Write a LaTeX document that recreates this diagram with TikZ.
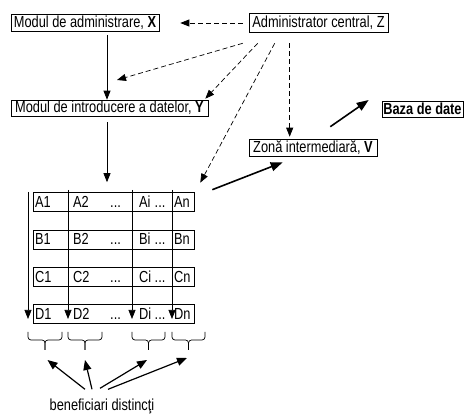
\documentclass[tikz,border=0pt]{standalone}
\usepackage{fontspec}
\setmainfont{Liberation Sans}[FakeStretch=0.8]
\usetikzlibrary{arrows.meta,calc}
\begin{document}
\begin{tikzpicture}[x=1pt,y=-1pt,
  every node/.style={font=\fontsize{16}{18}\selectfont, inner sep=0pt},
  box/.style={draw, line width=0.6pt, minimum height=17pt, inner sep=1pt},
  rowbox/.style={draw, line width=0.6pt, minimum width=161pt, minimum height=19pt},
  cell/.style={anchor=base west},
  arr/.style={line width=0.7pt, -{Triangle[length=9pt,width=7pt]}},
  darr/.style={line width=0.7pt, dash pattern=on 5pt off 3pt, -{Triangle[length=9pt,width=7pt]}},
  tarr/.style={line width=1.6pt, -{Triangle[length=12pt,width=9pt]}},
  barr/.style={line width=1.2pt, -{Triangle[length=10pt,width=8pt]}},
  bracepath/.style={line width=0.7pt, rounded corners=3pt}
]
\useasboundingbox (0,0) rectangle (464,414);

% main boxes
\node[box, minimum width=148pt] (X) at (85,22.5) {Modul de administrare, \textbf{X}};
\node[box, minimum width=139pt, minimum height=19pt] (Z) at (318.5,22.5) {Administrator central, Z};
\node[box, minimum width=197pt, minimum height=16pt] (Y) at (109.5,108) {Modul de introducere a datelor, \textbf{Y}};
\node[box, minimum width=128pt] (V) at (313,147.5) {Zonă intermediară, \textbf{V}};
\node[box, minimum width=81pt, minimum height=16pt] (B) at (422.5,109) {\textbf{Baza de date}};

% table rows
\node[rowbox] (rA) at (113.5,202) {};
\node[rowbox] (rB) at (113.5,239.5) {};
\node[rowbox] (rC) at (113.5,277) {};
\node[rowbox] (rD) at (113.5,314) {};

\foreach \r/\y in {A/207.5,B/245,C/282.5,D/319.5}{
  \node[cell] (\r c1) at (35,\y) {\r1};
  \node[cell] (\r c2) at (73,\y) {\r2};
  \node[cell] (\r d1) at (110,\y) {...};
  \node[cell] (\r ci) at (139,\y) {\r i};
  \node[cell] (\r d2) at (154.5,\y) {...};
  \node[cell] (\r cn) at (174,\y) {\r n};
}

% vertical column arrows
\foreach \i/\x/\t in {1/28/192,2/68/190,3/132/190,4/172/190}{
  \coordinate (vt\i) at (\x,\t);
  \coordinate (ve\i) at (\x,319);
  \draw[arr] (vt\i) -- (ve\i);
}

% solid arrows
\draw[arr] ($(X.south)+(22,4)$) -- ($(Y.north)+(-2.5,0)$);
\draw[arr] ($(Y.south)+(-2.5,6)$) -- ($(rA.north)+(-6.5,-10)$);

% dashed arrows from Z
\coordinate (c1) at (117,80);
\draw[darr] ($(Z.west)+(-6,0.5)$) -- ($(X.east)+(21,0.5)$);
\draw[darr] ($(Z.south west)+(-6,11)$) -- (c1);
\draw[darr] ($(Z.south west)+(9,11)$) -- ($(Y.north east)+(-3,-1)$);
\draw[darr] ($(Z.south west)+(26,11)$) -- ($(rA.north east)+(6,-9.5)$);
\draw[darr] ($(Z.south west)+(41,11)$) -- ($(V.north west)+(41,-2)$);

% thick arrows
\draw[tarr] ($(rA.north east)+(18,-2.5)$) -- ($(V.south west)+(34,6)$);
\draw[tarr] ($(V.north east)+(-47,-12)$) -- ($(B.west)+(-13,-9)$);

% braces
\foreach \i/\a/\b in {1/28/62,2/68/102,3/132/165,4/172/205}{
  \pgfmathsetmacro{\m}{(\a+\b)/2}
  \coordinate (bt\i) at (\m,350);
  \draw[bracepath] (\a,332) -- (\a,340) -- (\m,340) -- (bt\i);
  \draw[bracepath] (\b,332) -- (\b,340) -- (\m,340) -- (bt\i);
}

% label and arrows
\node (ben) at (102,406) {beneficiari distincţi};
\draw[barr] ($(ben.north)+(-17,-9)$) -- ($(bt1)+(2.5,10)$);
\draw[barr] ($(ben.north)+(-10,-9)$) -- ($(bt2)+(0,10)$);
\draw[barr] ($(ben.north)+(-2,-10)$) -- ($(bt3)+(-1.5,10)$);
\draw[barr] ($(ben.north)+(6,-9)$) -- ($(bt4)+(-1.5,8)$);
\end{tikzpicture}
\end{document}
